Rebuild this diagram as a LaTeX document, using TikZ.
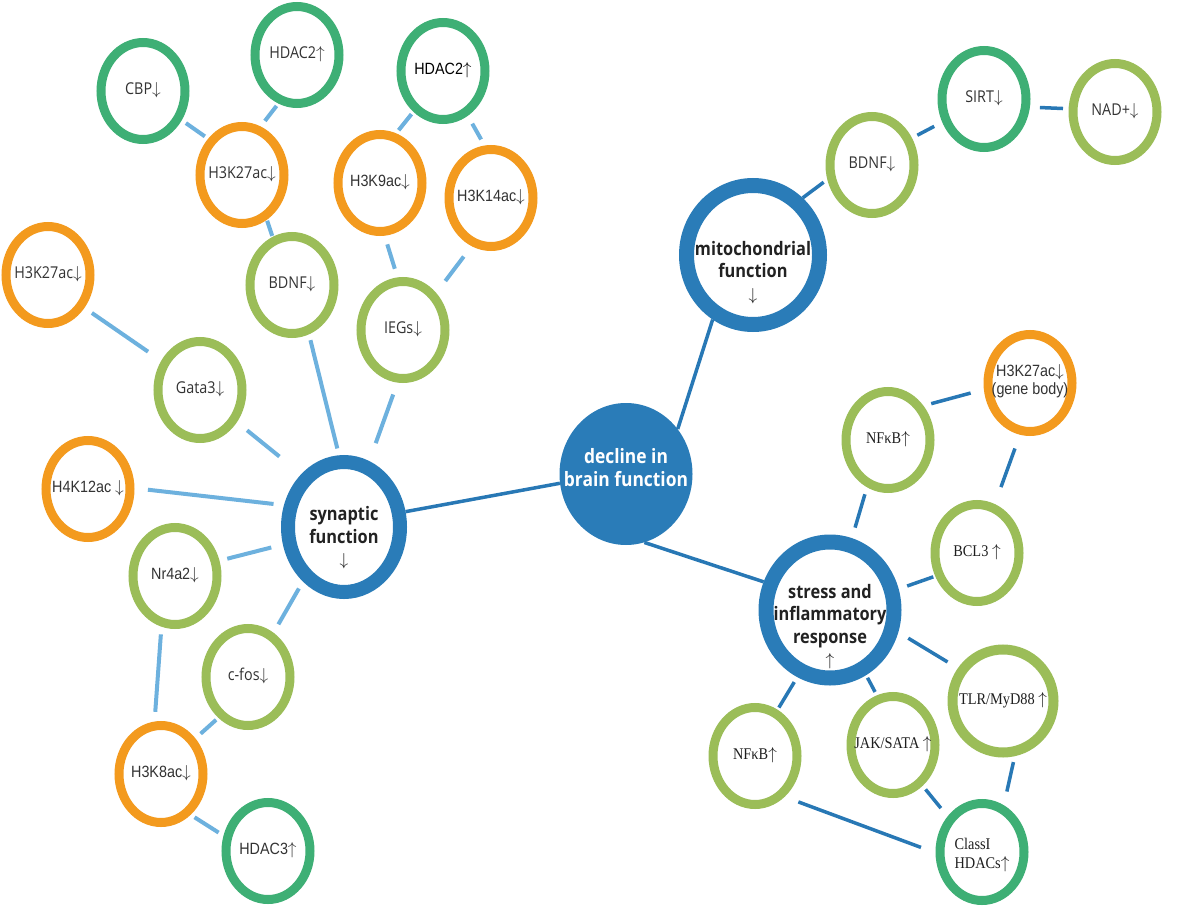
\documentclass[tikz,border=0pt]{standalone}
\usepackage{fontspec}
\setmainfont{Open Sans}[FakeStretch=0.88]
\newfontfamily\arfont{Liberation Sans}[FakeStretch=0.88]
\newfontfamily\tmfont{Liberation Serif}[FakeStretch=0.88]
\usetikzlibrary{shapes.geometric}
\definecolor{corange}{HTML}{F39A1E}
\definecolor{cgreen}{HTML}{9BBD58}
\definecolor{cteal}{HTML}{3EAF75}
\definecolor{cblue}{HTML}{2A7CB8}
\definecolor{clight}{HTML}{6DB1DE}
\definecolor{cdark}{HTML}{2878B5}
\definecolor{ctext}{HTML}{333333}
\definecolor{cbtext}{HTML}{222222}
\definecolor{ctimes}{HTML}{1E1E1E}
\newcommand\darr{\ensuremath{\downarrow}}
\newcommand\uarr{\ensuremath{\uparrow}}
\newcommand\zc[2][-4.1]{\makebox[0pt]{\raisebox{#1pt}[0pt][0pt]{\begin{tabular}{@{}c@{}}#2\end{tabular}}}}
\newcommand\zl[2][-4.1]{\makebox[0pt]{\raisebox{#1pt}[0pt][0pt]{\begin{tabular}{@{}l@{}}#2\end{tabular}}}}
\tikzset{
  ring/.style={ellipse, draw, fill=white, line width=9pt, minimum width=84pt, minimum height=97pt, inner sep=0pt},
  org/.style={ring, draw=corange},
  lgr/.style={ring, draw=cgreen},
  tea/.style={ring, draw=cteal},
  os/.style={font=\fontsize{16.3}{19.5}\selectfont, text=ctext},
  ar/.style={font=\arfont\fontsize{16.3}{19.5}\selectfont, text=ctext},
  tm/.style={font=\tmfont\fontsize{16.3}{19}\selectfont, text=ctimes},
  big/.style={ellipse, draw=cblue, fill=white, inner sep=0pt, text=cbtext, font=\bfseries\fontsize{18.6}{22.5}\selectfont},
  hub/.style={ellipse, fill=cblue, inner sep=0pt, minimum width=133pt, minimum height=142pt, text=white, font=\bfseries\fontsize{19.8}{23}\selectfont},
  lk/.style 2 args={draw=clight, line width=4pt, shorten <=#1pt, shorten >=#2pt},
  dk/.style 2 args={draw=cdark, line width=3.5pt, shorten <=#1pt, shorten >=#2pt},
}
\begin{document}
\begin{tikzpicture}[x=1pt,y=-1pt]
\useasboundingbox (0,0) rectangle (1200,907);
% left cluster
\node[tea,os] (cbp) at (143,91) {\zc{CBP\darr}};
\node[tea,os] (hdA) at (297,55) {\zc{HDAC2\uarr}};
\node[tea,ar,text=black] (hdB) at (443,71) {\zc{HDAC2\uarr}};
\node[org,os] (k27t) at (242,175) {\zc{H3K27ac\darr}};
\node[org,ar] (k9) at (380,183) {\zc{H3K9ac\darr}};
\node[org,ar] (k14) at (491,198) {\zc{H3K14ac\darr}};
\node[org,os] (k27l) at (48,275) {\zc{H3K27ac\darr}};
\node[lgr,os] (bdnf) at (292,285) {\zc{BDNF\darr}};
\node[lgr,os] (iegs) at (403,330) {\zc{IEGs\darr}};
\node[lgr,os] (gata) at (200,390) {\zc{Gata3\darr}};
\node[org,ar] (h4) at (88,489) {\zc{H4K12ac \darr}};
\node[big, line width=14pt, minimum width=112pt, minimum height=130pt] (syn) at (344,527) {\zc[-16]{synaptic\\function\\\darr}};
\node[lgr,ar] (nr4) at (175,576) {\zc{Nr4a2\darr}};
\node[lgr,os] (cfos) at (248,677) {\zc{c-fos\darr}};
\node[org,ar] (k8) at (161,774) {\zc{H3K8ac\darr}};
\node[tea,ar] (hd3) at (268,851) {\zc{HDAC3\uarr}};
% hub
\node[hub] (dec) at (626,474) {\zc[-2]{decline in\\brain function}};
% right cluster
\node[big, line width=15pt, minimum width=133pt, minimum height=139pt] (mito) at (753,255) {\zc[-22.7]{mitochondrial\\function\\\darr}};
\node[lgr,os] (bdr) at (872,165) {\zc{BDNF\darr}};
\node[tea,os] (sirt) at (984,99) {\zc{SIRT\darr}};
\node[lgr,os] (nad) at (1115,112) {\zc{NAD+\darr}};
\node[org,ar,font=\arfont\fontsize{16.3}{18}\selectfont] (gb) at (1030,383) {\zc[-3]{H3K27ac\darr\\(gene body)}};
\node[lgr,tm] (nft) at (888,440) {\zc{NFκB\uarr}};
\node[big, line width=15pt, minimum width=128pt, minimum height=136pt] (stress) at (830,610) {\zc[-21.7]{stress and\\inflammatory\\response\\\uarr}};
\node[lgr,tm] (bcl) at (977,553) {\zc{BCL3 \uarr}};
\node[lgr,tm, line width=10pt, minimum width=101pt, minimum height=103pt] (tlr) at (1003,701) {\zc{TLR/MyD88 \uarr}};
\node[lgr,tm] (nfb) at (755,756) {\zc{NFκB\uarr}};
\node[lgr,tm] (jak) at (893,745) {\zc{JAK/SATA \uarr}};
\node[tea,tm] (cls) at (982,852) {\zl[-8]{ClassI\\HDACs\uarr}};
% light connectors
\draw[lk={5}{4}] (cbp.-37.5) -- (k27t.133.5);
\draw[lk={3}{7}] (hdA.-111.4) -- (k27t.69.1);
\draw[lk={3}{4}] (hdB.-126.7) -- (k9.72.5);
\draw[lk={9}{7}] (hdB.-61.3) -- (k14.97.7);
\draw[lk={1}{1}] (k27t.-61.3) -- (bdnf.112);
\draw[lk={9}{9}] (k9.-85.4) -- (iegs.96.4);
\draw[lk={13}{15}] (k14.-112.6) -- (iegs.48.7);
\draw[lk={6}{7}] (bdnf.-71) -- (syn.94.3);
\draw[lk={12.6}{19}] (iegs.-96.1) -- (syn.69.1);
\draw[lk={9}{16}] (k27l.-42.2) -- (gata.143.1);
\draw[lk={13}{28}] (gata.-41.1) -- (syn.129.5);
\draw[lk={13.5}{10.5}] (h4.1) -- (syn.160.3);
\draw[lk={8}{12}] (nr4.19.1) -- (syn.-164.7);
\draw[lk={9.7}{8}] (cfos.60.5) -- (syn.-127);
\draw[lk={7.7}{9.7}] (nr4.-105.4) -- (k8.97.4);
\draw[lk={3}{7}] (cfos.-126.7) -- (k8.46.4);
\draw[lk={4.6}{5.8}] (k8.-54.6) -- (hd3.161.2);
% dark connectors
\draw[dk={0}{0}] (syn.14.2) -- (dec.-172.3);
\draw[dk={0}{0}] (dec.41.6) -- (mito.-122.5);
\draw[dk={0}{0}] (dec.-75.4) -- (stress.157.6);
\draw[dk={0}{4.5}] (mito.49.8) -- (bdr.-162);
\draw[dk={6}{9}] (bdr.34.6) -- (sirt.-151.6);
\draw[dk={10}{5.6}] (sirt.-10.1) -- (nad.176.7);
\draw[dk={8}{13.7}] (nft.44.3) -- (gb.-172.4);
\draw[dk={14.6}{18}] (gb.-101.1) -- (bcl.70);
\draw[dk={7.3}{11}] (nft.-114) -- (stress.73.9);
\draw[dk={2}{9}] (bcl.-151.4) -- (stress.17.3);
\draw[dk={11.6}{12}] (stress.-18.9) -- (tlr.144);
\draw[dk={5.8}{2.5}] (stress.-116.6) -- (nfb.64.9);
\draw[dk={3}{3.8}] (stress.-61.4) -- (jak.108.8);
\draw[dk={6}{14}] (tlr.-78) -- (cls.65.8);
\draw[dk={4.6}{10.6}] (jak.-54.6) -- (cls.134.3);
\draw[dk={14.6}{15.5}] (nfb.-54.4) -- (cls.-179.1);
\end{tikzpicture}
\end{document}
